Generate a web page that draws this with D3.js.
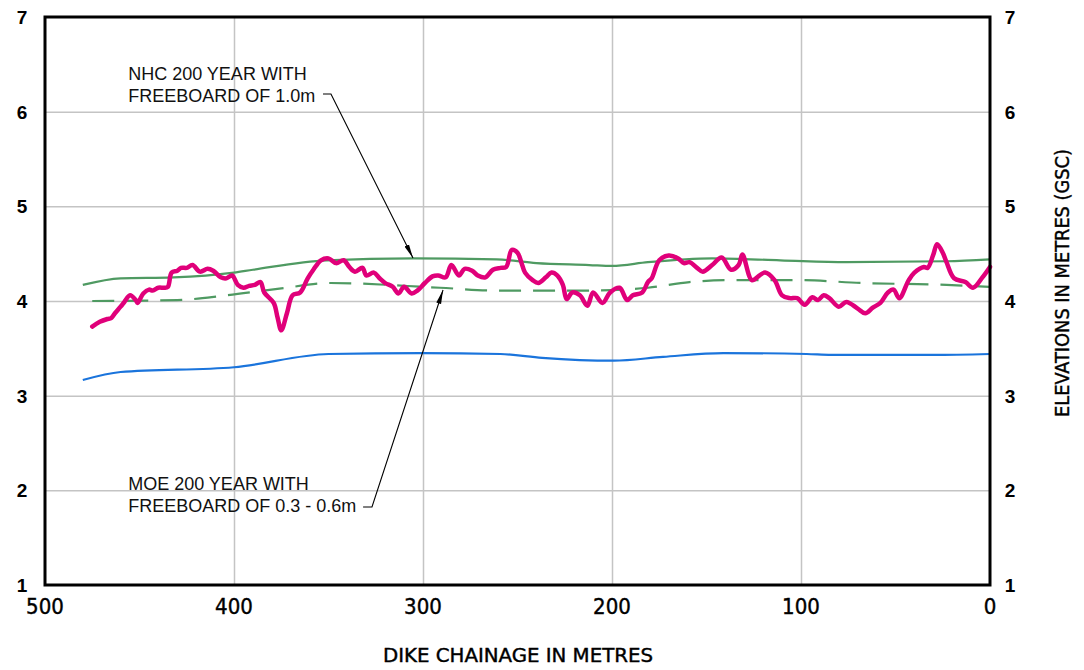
<!DOCTYPE html>
<html>
<head>
<meta charset="utf-8">
<script src="https://cdn.jsdelivr.net/npm/d3@7"></script>
<style>
html,body{margin:0;padding:0;background:#fff;}
svg{display:block;}
</style>
</head>
<body>
<svg id="chart" width="1084" height="670"></svg>
<script>
// ---------------- DATA ----------------
const xTicks = [500, 400, 300, 200, 100, 0];
const yTicks = [1, 2, 3, 4, 5, 6, 7];

// Ground / dike crest profile (magenta)
const profileChainage = [475,471,467,465,463,460,458,455,452,451,448,445,443,440,437,435,433,430,428,425,422,418,414,411,407,404,401,398,395,392,389,386,384,379,377,375,372,369,365,361,358,354,350,346,342,339,336,332,330,326,323,320,316,313,310,306,303,299,295,292,288,285,281,278,274,271,267,263,259,256,253,250,248,246,242,239,235,232,229,226,224,221,217,213,210,205,201,196,192,189,184,181,179,175,170,165,162,159,155,152,147,142,137,133,131,126,122,119,114,110,106,102,98,94,91,88,85,80,76,70,66,62,58,54,51,48,43,40,35,33,30,28,25,23,19,13,9,4,0];
const profileElevation = [3.73,3.78,3.81,3.82,3.87,3.94,3.99,4.06,4.01,3.98,4.08,4.12,4.11,4.14,4.14,4.15,4.30,4.32,4.35,4.35,4.38,4.31,4.34,4.32,4.25,4.24,4.27,4.17,4.14,4.16,4.17,4.20,4.09,3.98,3.83,3.69,3.87,4.06,4.09,4.24,4.33,4.43,4.45,4.40,4.43,4.36,4.31,4.35,4.27,4.30,4.24,4.19,4.15,4.08,4.15,4.08,4.11,4.19,4.26,4.27,4.25,4.38,4.27,4.34,4.32,4.27,4.25,4.33,4.35,4.36,4.54,4.51,4.41,4.30,4.22,4.19,4.25,4.30,4.27,4.17,4.02,4.09,4.06,3.95,4.09,3.98,4.09,4.14,4.01,4.06,4.09,4.20,4.24,4.43,4.48,4.45,4.40,4.41,4.35,4.31,4.38,4.46,4.33,4.38,4.49,4.22,4.27,4.30,4.22,4.06,4.03,4.03,3.96,4.04,4.01,4.06,4.03,3.94,3.99,3.92,3.87,3.93,3.98,4.09,4.12,4.03,4.22,4.30,4.36,4.35,4.49,4.60,4.51,4.41,4.24,4.20,4.14,4.25,4.36];

// NHC 200 year with freeboard of 1.0m (green solid)
const nhcChainage = [480,460,432,400,390,351,305,261,240,212,200,181,147,111,76,23,0];
const nhcElevation = [4.17,4.24,4.25,4.30,4.33,4.43,4.45,4.44,4.40,4.38,4.37,4.41,4.45,4.43,4.41,4.42,4.44];

// MOE 200 year with freeboard of 0.3 - 0.6m (green dashed)
const moeChainage = [475,430,404,376,349,291,261,212,181,159,138,101,67,23,0];
const moeElevation = [4.00,4.01,4.06,4.13,4.19,4.14,4.11,4.11,4.14,4.20,4.22,4.22,4.19,4.17,4.15];

// 200 year water level (blue)
const wlChainage = [480,460,400,350,301,259,237,199,173,141,97,84,30,0];
const wlElevation = [3.165,3.25,3.30,3.44,3.45,3.44,3.40,3.37,3.41,3.45,3.44,3.43,3.43,3.44];

// Annotations
const noteLines = [
  ["NHC 200 YEAR WITH", "FREEBOARD OF 1.0m"],
  ["MOE 200 YEAR WITH", "FREEBOARD OF 0.3 - 0.6m"]
];
const noteTextAnchor = [[456, 6.334], [456, 2.003]];           // chainage, elevation of first baseline
const noteLeaderStart = [[352.9, 6.186], [331.7, 1.824]];
const noteLeaderBend  = [[348.7, 6.186], [327.0, 1.824]];
const noteLeaderTip   = [[305.3, 4.454], [289.4, 4.116]];

const xTitle = "DIKE CHAINAGE IN METRES";
const yTitle = "ELEVATIONS IN METRES (GSC)";

// ---------------- CHART ----------------
const svg = d3.select("#chart");
const W = 1084, H = 670;
const m = {left: 45, right: 94, top: 17, bottom: 85};
const x = d3.scaleLinear().domain([500, 0]).range([m.left, W - m.right]);
const y = d3.scaleLinear().domain([1, 7]).range([H - m.bottom, m.top]);

const gridColor = "#c4c4c4";
// grid
svg.append("g")
  .attr("transform", `translate(0,${H - m.bottom})`)
  .call(d3.axisBottom(x).tickValues(xTicks.filter(d => d !== 500 && d !== 0)).tickSize(-(H - m.bottom - m.top)).tickFormat(""))
  .call(g => g.select(".domain").remove())
  .call(g => g.selectAll("line").attr("stroke", gridColor).attr("stroke-width", 1.5));
svg.append("g")
  .attr("transform", `translate(${m.left},0)`)
  .call(d3.axisLeft(y).tickValues(yTicks.filter(d => d !== 1 && d !== 7)).tickSize(-(W - m.right - m.left)).tickFormat(""))
  .call(g => g.select(".domain").remove())
  .call(g => g.selectAll("line").attr("stroke", gridColor).attr("stroke-width", 1.5));

const mk = (cs, vs) => cs.map((c, i) => [c, vs[i]]);
const line = d3.line().x(d => x(d[0])).y(d => y(d[1]));

// blue water level
svg.append("path").datum(mk(wlChainage, wlElevation))
  .attr("fill", "none").attr("stroke", "#1a74dc").attr("stroke-width", 2.2)
  .attr("d", line.curve(d3.curveMonotoneX));
// MOE dashed
svg.append("path").datum(mk(moeChainage, moeElevation))
  .attr("fill", "none").attr("stroke", "#4f9a62").attr("stroke-width", 2.2)
  .attr("stroke-dasharray", "22,12")
  .attr("d", line.curve(d3.curveMonotoneX));
// NHC solid
svg.append("path").datum(mk(nhcChainage, nhcElevation))
  .attr("fill", "none").attr("stroke", "#4f9a62").attr("stroke-width", 2.2)
  .attr("d", line.curve(d3.curveMonotoneX));
// profile
svg.append("path").datum(mk(profileChainage, profileElevation))
  .attr("fill", "none").attr("stroke", "#e0007a").attr("stroke-width", 4.5)
  .attr("stroke-linejoin", "round").attr("stroke-linecap", "round")
  .attr("d", line.curve(d3.curveCatmullRom.alpha(0.5)));

// frame
svg.append("rect")
  .attr("x", m.left).attr("y", m.top)
  .attr("width", W - m.right - m.left).attr("height", H - m.bottom - m.top)
  .attr("fill", "none").attr("stroke", "#000").attr("stroke-width", 3);

// y tick labels left & right
const yLabFont = "'Liberation Sans', Arial, sans-serif";
svg.append("g").selectAll("text").data(yTicks).join("text")
  .attr("x", 22).attr("y", d => y(d)).attr("dy", "0.36em")
  .attr("text-anchor", "middle").attr("font-family", yLabFont)
  .attr("font-weight", "bold").attr("font-size", 19).text(d => d);
svg.append("g").selectAll("text").data(yTicks).join("text")
  .attr("x", 1010).attr("y", d => y(d)).attr("dy", "0.36em")
  .attr("text-anchor", "middle").attr("font-family", yLabFont)
  .attr("font-weight", "bold").attr("font-size", 19).text(d => d);

// x tick labels
const narrow = "'Liberation Sans Narrow', 'DejaVu Sans Condensed', 'Liberation Sans', sans-serif";
svg.append("g").selectAll("text").data(xTicks).join("text")
  .attr("x", d => x(d)).attr("y", 614)
  .attr("text-anchor", "middle").attr("font-family", narrow)
  .attr("font-size", 22).attr("fill", "#000")
  .attr("stroke", "#000").attr("stroke-width", 0.4).text(d => d);

// axis titles
svg.append("text").attr("x", 518).attr("y", 662)
  .attr("text-anchor", "middle").attr("font-family", narrow)
  .attr("font-size", 20).attr("textLength", 270).attr("lengthAdjust", "spacingAndGlyphs")
  .attr("stroke", "#000").attr("stroke-width", 0.4)
  .text(xTitle);
svg.append("text").attr("transform", "translate(1069,283) rotate(-90)")
  .attr("text-anchor", "middle").attr("font-family", narrow)
  .attr("font-size", 20).attr("textLength", 268).attr("lengthAdjust", "spacingAndGlyphs")
  .attr("stroke", "#000").attr("stroke-width", 0.4)
  .text(yTitle);

// annotations
const defs = svg.append("defs");
defs.append("marker").attr("id", "arr").attr("viewBox", "0 0 14 6")
  .attr("refX", 14).attr("refY", 3).attr("markerWidth", 14).attr("markerHeight", 6)
  .attr("markerUnits", "userSpaceOnUse").attr("orient", "auto")
  .append("path").attr("d", "M0,0.5 L14,3 L0,5.5 Z").attr("fill", "#000");

noteLines.forEach((lines, i) => {
  const t = svg.append("text").attr("font-family", "'Liberation Sans', Arial, sans-serif")
    .attr("font-size", 18).attr("fill", "#111");
  lines.forEach((s, j) => {
    t.append("tspan").attr("x", x(noteTextAnchor[i][0])).attr("y", y(noteTextAnchor[i][1]) + j * 21.5).text(s);
  });
  const pts = [noteLeaderStart[i], noteLeaderBend[i], noteLeaderTip[i]];
  svg.append("path").datum(pts)
    .attr("fill", "none").attr("stroke", "#000").attr("stroke-width", 1.1)
    .attr("marker-end", "url(#arr)")
    .attr("d", d3.line().x(d => x(d[0])).y(d => y(d[1])));
});
</script>
</body>
</html>
